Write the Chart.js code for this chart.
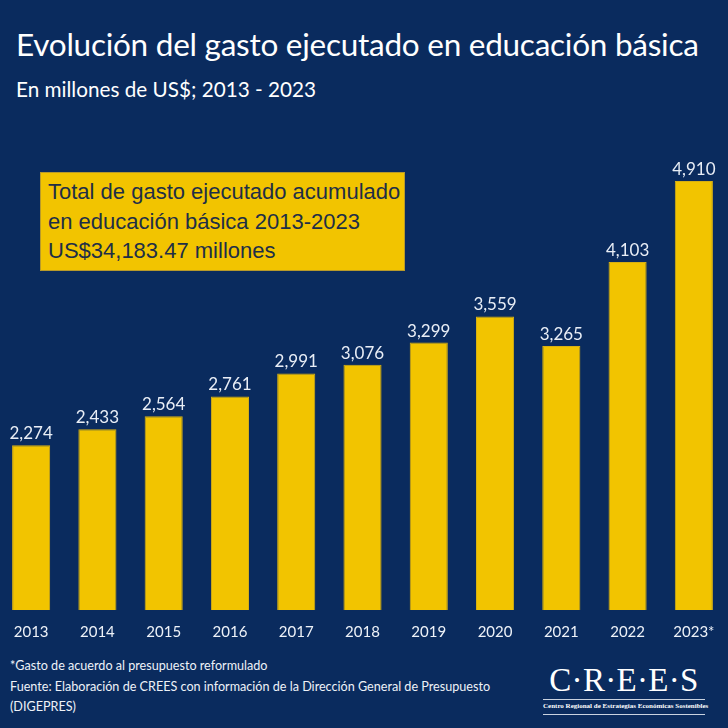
<!DOCTYPE html>
<html>
<head>
<meta charset="utf-8">
<script src="https://cdn.jsdelivr.net/npm/chart.js@4.4.1/dist/chart.umd.min.js"></script>
<style>
  html, body { margin: 0; padding: 0; }
  body { width: 728px; height: 728px; background: #0a2b5e; position: relative; overflow: hidden; font-family: Lato, sans-serif; color: #fff; }
  .title { position: absolute; left: 16px; top: 25px; font-size: 31.5px; white-space: nowrap; letter-spacing: -0.25px; }
  .subtitle { position: absolute; left: 16px; top: 77px; font-size: 20.7px; white-space: nowrap; letter-spacing: 0; }
  #wrap { position: absolute; left: -2px; top: 150px; width: 732px; height: 504px; }
  .box { position: absolute; left: 40px; top: 172px; width: 365px; height: 99px; background: #f2c400; border: 1px solid #b89a2a; box-sizing: border-box;
         font-family: "Liberation Sans", Arial, sans-serif; font-size: 22px; line-height: 29.5px; color: #1e2f47; padding: 4px 0 0 7px; white-space: nowrap; }
  .notes { position: absolute; left: 10px; top: 655px; font-size: 14px; line-height: 20.5px; color: #eef2f8; white-space: nowrap; transform-origin: 0 0; transform: scaleX(0.9); }
  .logo { position: absolute; left: 543px; top: 662px; width: 162px; text-align: center; font-family: "Liberation Serif", "DejaVu Serif", serif; color: #fff; }
  .logo .big { font-size: 33px; line-height: 36px; letter-spacing: 0.3px; }
  .logo .rule { border-top: 1px solid #c9d2e0; margin-top: 1px; }
  .logo .small { font-size: 7px; font-weight: bold; line-height: 13px; white-space: nowrap; }
</style>
</head>
<body>
<div class="title">Evolución del gasto ejecutado en educación básica</div>
<div class="subtitle">En millones de US$; 2013 - 2023</div>
<div id="wrap"><canvas id="chart"></canvas></div>
<div class="box">Total de gasto ejecutado acumulado<br>en educación básica 2013-2023<br>US$34,183.47 millones</div>
<div class="notes">*Gasto de acuerdo al presupuesto reformulado<br>Fuente: Elaboración de CREES con información de la Dirección General de Presupuesto<br>(DIGEPRES)</div>
<div class="logo">
  <div class="big">C·R·E·E·S</div>
  <div class="rule"></div>
  <div class="small">Centro Regional de Estrategias Económicas Sostenibles</div>
  <div class="rule"></div>
</div>
<script>
const years = ['2013', '2014', '2015', '2016', '2017', '2018', '2019', '2020', '2021', '2022', '2023*'];
const gasto = [2274, 2433, 2564, 2761, 2991, 3076, 3299, 3559, 3265, 4103, 4910];

// value labels above bars
const valueLabels = {
    id: 'valueLabels',
    afterDatasetsDraw(chart) {
        const ctx = chart.ctx;
        const meta = chart.getDatasetMeta(0);
        ctx.save();
        ctx.font = '17px Lato';
        ctx.fillStyle = '#e9eef6';
        ctx.textAlign = 'center';
        ctx.textBaseline = 'alphabetic';
        meta.data.forEach((bar, i) => {
            ctx.fillText(gasto[i].toLocaleString('en-US'), bar.x, bar.y - 6);
        });
        ctx.restore();
    }
};

new Chart(document.getElementById('chart'), {
    type: 'bar',
    data: {
        labels: years,
        datasets: [{
            data: gasto,
            backgroundColor: '#f2c400',
            borderColor: '#d8b012',
            borderWidth: 1,
            categoryPercentage: 1,
            barPercentage: 0.575
        }]
    },
    options: {
        responsive: true,
        maintainAspectRatio: false,
        animation: false,
        layout: { padding: { left: 0, right: 3, top: 0, bottom: 0 } },
        plugins: {
            legend: { display: false },
            tooltip: { enabled: false }
        },
        scales: {
            x: {
                grid: { display: false, drawTicks: false },
                border: { display: false },
                ticks: { color: '#eef2f8', font: { family: 'Lato', size: 15 }, padding: 13 }
            },
            y: {
                display: false,
                min: 630,
                max: 5220
            }
        }
    },
    plugins: [valueLabels]
});
</script>
</body>
</html>
